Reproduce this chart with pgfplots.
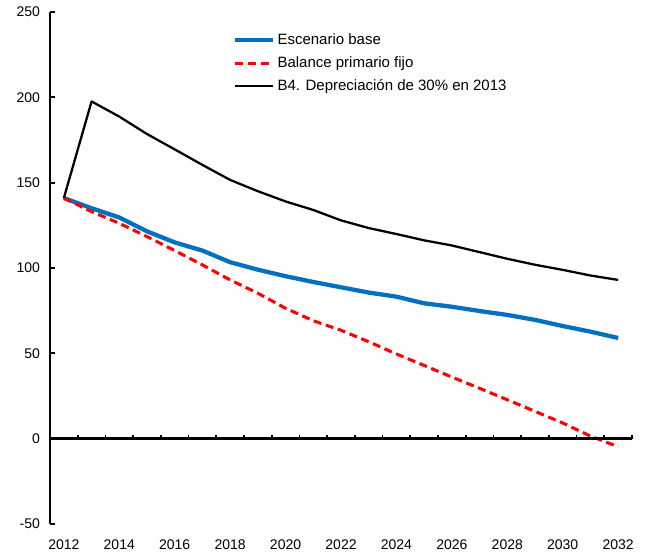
\documentclass[border=0pt]{standalone}
\usepackage{pgfplots}
\usepackage{pgfplotstable}
\pgfplotsset{compat=1.18}
\usepackage{fontspec}
\setmainfont{Liberation Sans}
\definecolor{cblue}{RGB}{0,112,192}
\pgfplotstableread{
year base fijo dep
2012 141 141 141
2013 135 133 197.6
2014 129.6 126.2 188.7
2015 121.5 118.4 178.5
2016 115 110.2 169.5
2017 110.2 101.8 160.4
2018 103.4 93 151.6
2019 99 85.2 145
2020 95.2 76.4 139
2021 91.8 69.1 134
2022 88.7 63.5 127.9
2023 85.6 56.8 123.4
2024 83.2 49.6 119.9
2025 79.3 42.9 116.2
2026 77.3 36.1 113.2
2027 74.8 29.5 109.3
2028 72.5 22.8 105.4
2029 69.6 16 101.9
2030 66 9.2 98.9
2031 62.7 1.5 95.6
2032 59 -4.7 93
}\data
\begin{document}
\begin{tikzpicture}
\begin{axis}[
  name=main,
  scale only axis, width=436.5pt, height=384pt,
  xmin=2011.5, xmax=2032.5, ymin=-50, ymax=250,
  axis y line*=left, axis x line*=bottom,
  x axis line style={draw=none},
  y axis line style={line width=1.8pt, black},
  xtick={2012,2014,...,2032},
  xticklabels={2012,2014,2016,2018,2020,2022,2024,2026,2028,2030,2032},
  xtick style={draw=none},
  ytick={-50,0,50,100,150,200,250},
  yticklabels={-50,0,50,100,150,200,250},
  ytick style={line width=1.4pt, black},
  ytick align=inside, major tick length=3.5pt,
  tick label style={font=\fontsize{10.5}{12}\selectfont},
  xticklabel style={yshift=-8.5pt},
  yticklabel style={xshift=-4pt},
  legend style={at={(0.3144,0.963)}, anchor=north west, draw=none, fill=none,
    font=\fontsize{11.25}{13}\selectfont, row sep=3.5pt, inner sep=0pt,
    nodes={inner sep=2pt}},
  legend cell align=left,
  legend image code/.code={\draw[#1] (0pt,0pt) -- (28pt,0pt);},
  clip=false,
]
\addplot[cblue, line width=3.2pt, line join=round] table[x=year,y=base] {\data};
\addlegendentry{Escenario base}
\addplot[red, line width=2.3pt, dash pattern=on 6pt off 3.5pt] table[x=year,y=fijo] {\data};
\addlegendentry{Balance primario fijo}
\addplot[black, line width=1.7pt, line join=round] table[x=year,y=dep] {\data};
\addlegendentry{B4. Depreciación de 30\% en 2013}
\end{axis}
\begin{axis}[
  scale only axis, width=436.5pt, height=384pt,
  xmin=2011.5, xmax=2032.5, ymin=-50, ymax=250,
  axis x line*=middle, axis y line=none,
  x axis line style={line width=1.8pt, black},
  xtick={2011.5,2012.5,...,2032.5},
  xticklabels={},
  ytick=\empty,
  xtick style={line width=1.2pt, black},
  xtick align=inside, major tick length=3pt,
]
\end{axis}
\path (-37.5pt,-24pt) rectangle (449.25pt,393pt);
\end{tikzpicture}
\end{document}
